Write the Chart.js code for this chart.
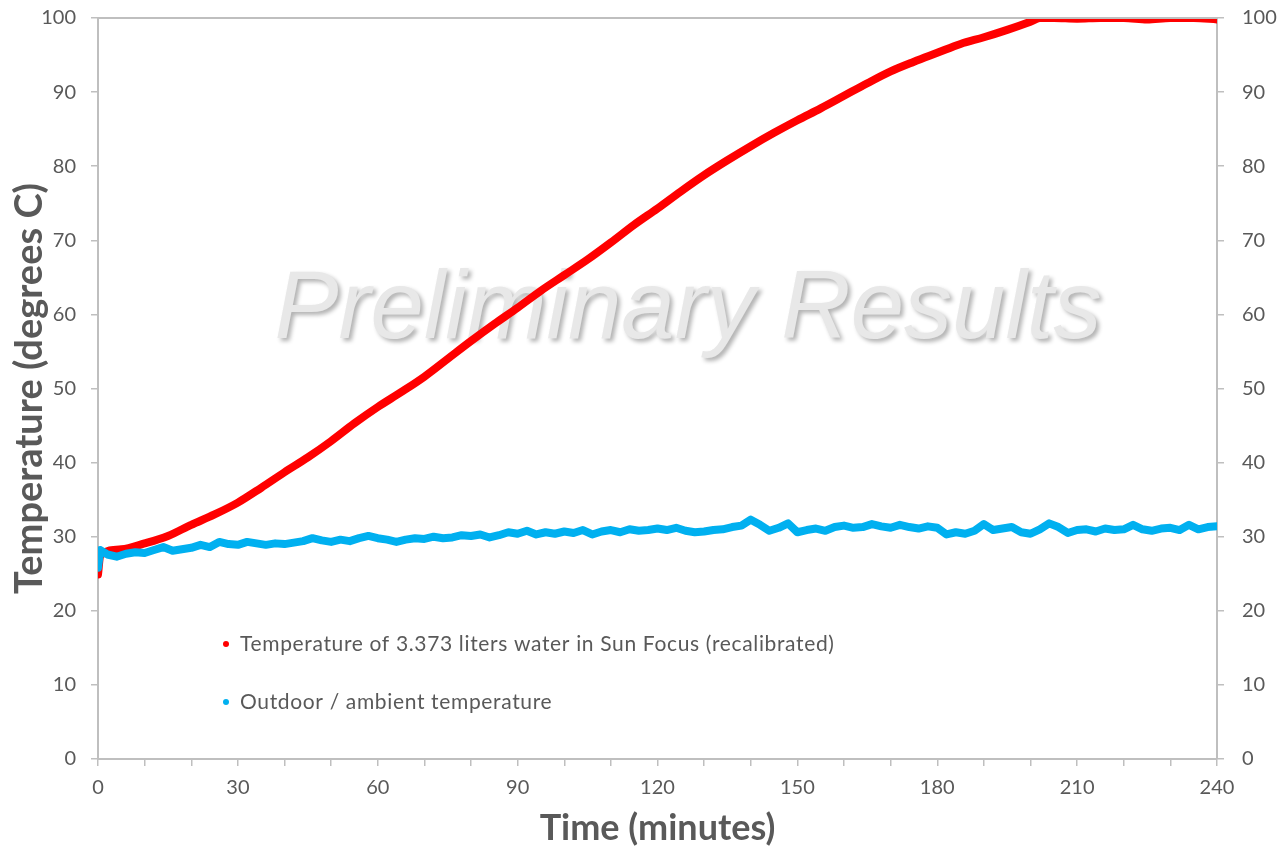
<!DOCTYPE html>
<html>
<head>
<meta charset="utf-8">
<title>Sun Focus water heating</title>
<script src="https://cdn.jsdelivr.net/npm/chart.js@4.4.1/dist/chart.umd.min.js"></script>
<style>
    html, body { margin: 0; padding: 0; background: #ffffff; }
    #wrap { width: 1287px; height: 850px; }
</style>
</head>
<body>
<div id="wrap"><canvas id="sunChart" width="1287" height="850"></canvas></div>
<script>
// minutes / degrees C
const waterTimes = [0, 0.5, 5, 10, 15, 20, 25, 30, 35, 40, 45, 50, 55, 60, 65, 70, 75, 80, 85, 90,
    95, 100, 105, 110, 115, 120, 125, 130, 135, 140, 145, 150, 155, 160, 165, 170, 175, 180, 185,
    190, 195, 200, 202, 205, 210, 215, 220, 225, 230, 235, 240];
const waterTemps = [24.9, 27.5, 28.3, 29.1, 30.1, 31.6, 33.0, 34.6, 36.6, 38.7, 40.7, 42.9, 45.3,
    47.5, 49.5, 51.6, 54.0, 56.4, 58.7, 60.9, 63.2, 65.3, 67.4, 69.7, 72.1, 74.3, 76.6, 78.8, 80.8,
    82.7, 84.5, 86.2, 87.8, 89.5, 91.2, 92.8, 94.1, 95.3, 96.5, 97.4, 98.4, 99.5, 100, 100, 99.9,
    100, 100, 99.8, 100, 100, 99.8];

const ambientTimes = [0, 0.5, 2, 4, 6, 8, 10, 12, 14, 16, 18, 20, 22, 24, 26, 28, 30, 32, 34, 36, 38,
    40, 42, 44, 46, 48, 50, 52, 54, 56, 58, 60, 62, 64, 66, 68, 70, 72, 74, 76, 78, 80, 82, 84, 86,
    88, 90, 92, 94, 96, 98, 100, 102, 104, 106, 108, 110, 112, 114, 116, 118, 120, 122, 124, 126,
    128, 130, 132, 134, 136, 138, 140, 142, 144, 146, 148, 150, 152, 154, 156, 158, 160, 162, 164,
    166, 168, 170, 172, 174, 176, 178, 180, 182, 184, 186, 188, 190, 192, 194, 196, 198, 200, 202,
    204, 206, 208, 210, 212, 214, 216, 218, 220, 222, 224, 226, 228, 230, 232, 234, 236, 238, 240];
const ambientTemps = [25.8, 28.2, 27.6, 27.3, 27.7, 27.9, 27.8, 28.2, 28.6, 28.1, 28.3, 28.5, 28.9,
    28.6, 29.3, 29.0, 28.9, 29.3, 29.1, 28.9, 29.1, 29.0, 29.2, 29.4, 29.8, 29.5, 29.3, 29.6, 29.4,
    29.8, 30.1, 29.8, 29.6, 29.3, 29.6, 29.8, 29.7, 30.0, 29.8, 29.9, 30.2, 30.1, 30.3, 29.9, 30.2,
    30.6, 30.4, 30.8, 30.3, 30.6, 30.4, 30.7, 30.5, 30.9, 30.3, 30.7, 30.9, 30.6, 31.0, 30.8, 30.9,
    31.1, 30.9, 31.2, 30.8, 30.6, 30.7, 30.9, 31.0, 31.3, 31.5, 32.3, 31.6, 30.8, 31.2, 31.8, 30.6,
    30.9, 31.1, 30.8, 31.3, 31.5, 31.2, 31.3, 31.7, 31.4, 31.2, 31.6, 31.3, 31.1, 31.4, 31.2, 30.3,
    30.6, 30.4, 30.8, 31.7, 30.9, 31.1, 31.3, 30.6, 30.4, 31.0, 31.8, 31.3, 30.5, 30.9, 31.0, 30.7,
    31.1, 30.9, 31.0, 31.6, 31.0, 30.8, 31.1, 31.2, 30.9, 31.6, 31.0, 31.3, 31.4];

const seriesLabels = [
    'Temperature of 3.373 liters water in Sun Focus (recalibrated)',
    'Outdoor / ambient temperature'
];
const xLabelStep = 30;

const textGray = '#595959';
const axisGray = '#bfbfbf';

const toPoints = (xs, ys) => xs.map((x, i) => ({ x: x, y: ys[i] }));

// big "Preliminary Results" stamp behind the data
const watermarkPlugin = {
    id: 'watermark',
    beforeDatasetsDraw(chart) {
        const { ctx, chartArea } = chart;
        ctx.save();
        ctx.font = 'italic 96px "Liberation Sans", Arial, sans-serif';
        ctx.textAlign = 'center';
        ctx.textBaseline = 'alphabetic';
        ctx.shadowColor = 'rgba(0, 0, 0, 0.3)';
        ctx.shadowBlur = 4;
        ctx.shadowOffsetX = 3;
        ctx.shadowOffsetY = 3;
        ctx.fillStyle = '#e8e8e8';
        ctx.fillText('Preliminary Results', chartArea.left + 590, chartArea.top + 320);
        ctx.restore();
    }
};

// top frame line + legend sitting inside the plot
const framePlugin = {
    id: 'frame',
    afterDraw(chart) {
        const { ctx, chartArea } = chart;
        ctx.save();
        ctx.strokeStyle = axisGray;
        ctx.lineWidth = 2;
        ctx.beginPath();
        ctx.moveTo(chartArea.left, chartArea.top);
        ctx.lineTo(chartArea.right, chartArea.top);
        ctx.stroke();

        ctx.font = '21px Lato, "Open Sans", sans-serif';
        ctx.letterSpacing = '0.65px';
        ctx.textBaseline = 'middle';
        chart.data.datasets.forEach((ds, i) => {
            const y = chartArea.top + 626 + i * 58;
            const x = chartArea.left + 128;
            ctx.fillStyle = ds.borderColor;
            ctx.beginPath();
            ctx.arc(x, y, 3, 0, Math.PI * 2);
            ctx.fill();
            ctx.fillStyle = textGray;
            ctx.fillText(ds.label, x + 14, y);
        });
        ctx.restore();
    }
};

const tickFont = { family: 'Lato, "Open Sans", sans-serif', size: 20 };

const fitSide = (w) => (scale) => {
    scale.width = w;
    scale.paddingTop = 0;
    scale.paddingBottom = 0;
};

const chartEle = document.getElementById('sunChart');
new Chart(chartEle, {
    type: 'scatter',
    data: {
        datasets: [
            {
                label: seriesLabels[0],
                data: toPoints(waterTimes, waterTemps),
                borderColor: '#ff0000',
                backgroundColor: '#ff0000',
                showLine: true,
                borderWidth: 8,
                tension: 0.3,
                cubicInterpolationMode: 'monotone',
                borderCapStyle: 'round',
                borderJoinStyle: 'round',
                pointRadius: 0,
                order: 1
            },
            {
                label: seriesLabels[1],
                data: toPoints(ambientTimes, ambientTemps),
                borderColor: '#00b0f0',
                backgroundColor: '#00b0f0',
                showLine: true,
                borderWidth: 8,
                tension: 0,
                borderCapStyle: 'round',
                borderJoinStyle: 'round',
                pointRadius: 0,
                order: 0
            }
        ]
    },
    options: {
        responsive: false,
        animation: false,
        layout: { padding: { top: 18, left: 0, right: 0, bottom: 0 } },
        plugins: {
            legend: { display: false },
            tooltip: { enabled: false }
        },
        scales: {
            x: {
                type: 'linear',
                position: 'bottom',
                min: 0,
                max: 240,
                afterFit: (scale) => {
                    scale.height = 91;
                    scale.paddingLeft = 0;
                    scale.paddingRight = 0;
                },
                ticks: {
                    stepSize: 10,
                    color: textGray,
                    font: tickFont,
                    padding: 10,
                    maxRotation: 0,
                    autoSkip: false,
                    callback: (v) => (v % xLabelStep === 0 ? String(v) : '')
                },
                grid: { drawOnChartArea: false, color: axisGray, lineWidth: 1.5, tickLength: 7 },
                border: { color: axisGray, width: 2 },
                title: {
                    display: true,
                    text: 'Time (minutes)',
                    color: textGray,
                    font: { family: 'Lato, "Open Sans", sans-serif', size: 36, weight: 'bold' },
                    padding: { top: 0, bottom: 0 }
                }
            },
            y: {
                position: 'left',
                min: 0,
                max: 100,
                afterFit: fitSide(98),
                ticks: { stepSize: 10, color: textGray, font: tickFont, padding: 15 },
                grid: { drawOnChartArea: false, color: axisGray, lineWidth: 1.5, tickLength: 7 },
                border: { color: axisGray, width: 2 },
                title: {
                    display: true,
                    text: 'Temperature (degrees C)',
                    color: textGray,
                    font: { family: 'Lato, "Open Sans", sans-serif', size: 38, weight: 'bold' },
                    padding: { top: 7, bottom: 0 }
                }
            },
            y2: {
                position: 'right',
                min: 0,
                max: 100,
                afterFit: fitSide(70),
                ticks: { stepSize: 10, color: textGray, font: tickFont, padding: 18 },
                grid: { drawOnChartArea: false, color: axisGray, lineWidth: 1.5, tickLength: 7 },
                border: { color: axisGray, width: 2 }
            }
        }
    },
    plugins: [watermarkPlugin, framePlugin]
});
</script>
</body>
</html>
